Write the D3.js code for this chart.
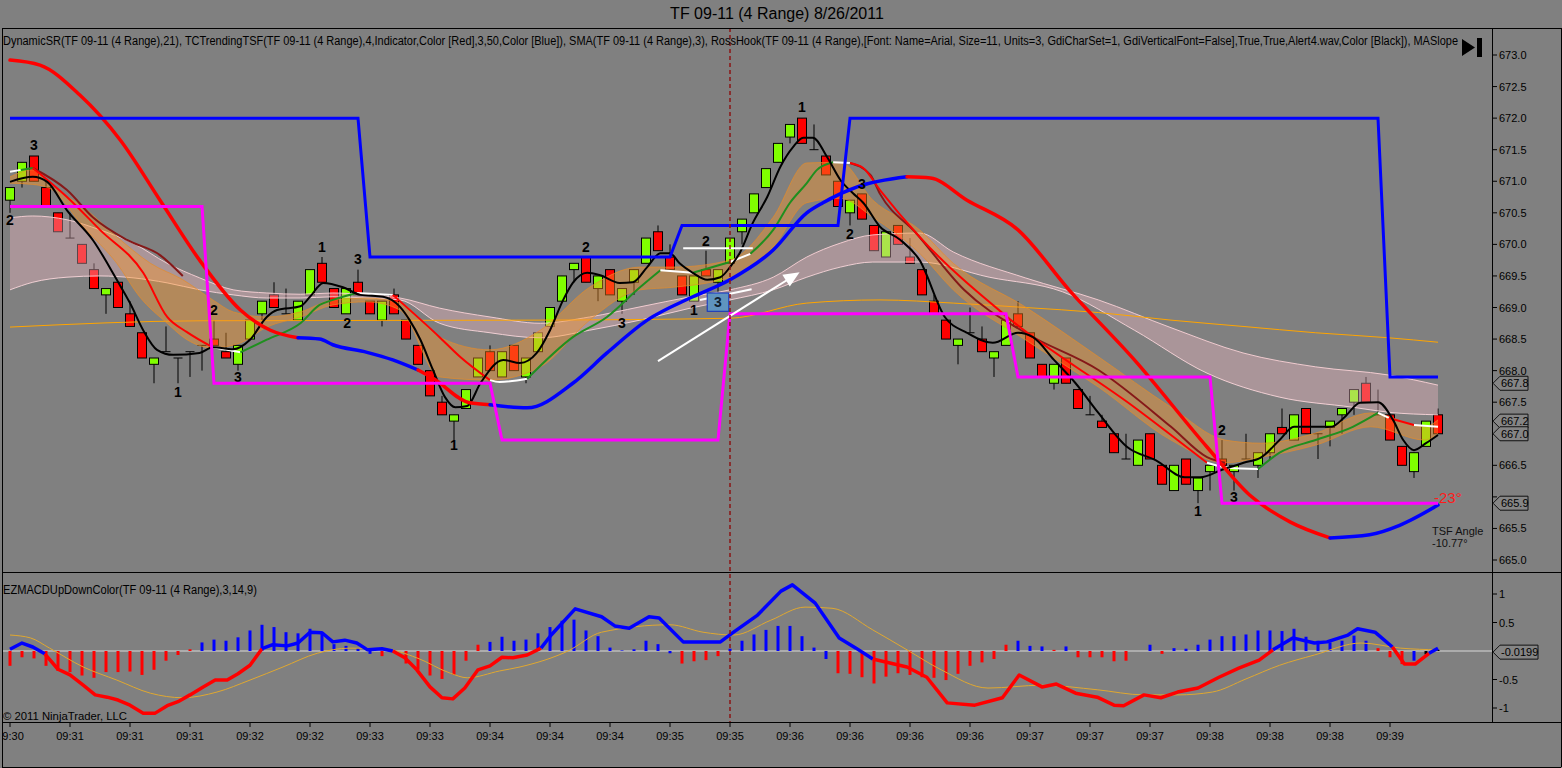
<!DOCTYPE html>
<html>
<head>
<meta charset="utf-8">
<script src="https://cdn.jsdelivr.net/npm/d3@7/dist/d3.min.js"></script>
<style>
  body { margin: 0; background: #808080; }
  svg { display: block; font-family: "Liberation Sans", Arial, sans-serif; }
</style>
</head>
<body>
<svg id="chart" width="1562" height="768"></svg>
<script>
// ---- price bars (4 range) ----
const opens  = [670.7,671.0,671.4,670.9,670.5,670.1,670.0,669.6,669.2,669.4, 668.9,668.6,668.1,668.3,668.2,668.3,668.4,668.5,668.3,668.1,
                668.5,668.9,669.2,668.9,668.8,669.2,669.7,669.3,668.9,669.4, 669.1,668.8,669.2,668.8,668.4,668.0,667.5,667.2,667.4,667.9,
                668.3,667.9,668.4,667.9,668.3,668.7,669.1,669.6,669.8,669.3, 669.6,669.1,669.4,669.7,670.2,669.8,669.5,669.1,669.6,669.4,
                669.7,670.2,670.5,670.9,671.3,671.7,672.0,671.5,671.4,671.0, 670.5,670.8,670.3,669.8,670.3,669.8,669.6,669.1,668.8,668.4,
                668.6,668.5,668.2,668.4,668.9,668.6,668.1,667.8,668.2,667.7, 667.3,667.2,667.0,666.6,666.5,667.0,666.5,666.1,666.6,666.1,
                666.4,666.6,666.4,666.6,666.5,666.7,667.1,666.9,667.4,667.0, 667.1,667.3,667.5,667.8,667.3,667.3,666.8,666.4,666.8,667.3]
const highs  = [670.9,671.3,671.4,671.0,670.5,670.5,670.0,669.7,669.3,669.4, 669.1,668.6,668.2,668.7,668.2,668.3,668.4,668.8,668.6,668.4,
                668.8,669.1,669.4,669.3,669.1,669.6,669.8,669.3,669.3,669.6, 669.1,669.1,669.3,668.8,668.4,668.0,667.6,667.3,667.7,668.2,
                668.4,668.3,668.4,668.2,668.6,669.0,669.5,669.7,669.8,669.5, 669.6,669.3,669.6,670.1,670.3,670.0,669.5,669.5,669.9,669.6,
                670.1,670.4,670.8,671.2,671.6,671.9,672.0,671.9,671.4,671.0, 670.7,670.8,670.3,670.2,670.3,670.1,669.6,669.2,668.8,668.5,
                669.0,668.7,668.3,668.8,669.1,668.6,668.1,668.1,668.2,667.7, 667.6,667.3,667.0,667.0,666.9,667.0,666.5,666.5,666.6,666.3,
                666.5,666.9,666.5,667.0,666.7,667.0,667.4,667.3,667.4,667.0, 667.2,667.4,667.7,667.9,667.7,667.3,666.8,666.7,667.2,667.4]
const lows   = [670.5,670.9,671.0,670.6,670.2,670.1,669.7,669.3,668.9,669.0, 668.7,668.2,667.8,668.3,667.8,667.9,668.0,668.4,668.2,668.0,
                668.5,668.8,669.0,668.9,668.8,669.2,669.4,669.0,668.9,669.2, 668.9,668.7,668.9,668.5,668.1,667.6,667.3,666.9,667.4,667.9,
                668.0,667.9,668.0,667.8,668.3,668.7,669.1,669.4,669.4,669.1, 669.2,668.9,669.2,669.7,669.9,669.6,669.2,669.1,669.5,669.2,
                669.7,670.0,670.5,670.9,671.3,671.6,671.6,671.5,671.1,670.6, 670.3,670.4,669.9,669.8,670.0,669.7,669.2,668.9,668.5,668.1,
                668.6,668.3,667.9,668.4,668.7,668.2,667.9,667.7,667.8,667.4, 667.3,667.1,666.7,666.6,666.5,666.6,666.2,666.1,666.2,665.9,
                666.1,666.5,666.1,666.6,666.3,666.6,667.0,666.9,667.0,666.6, 666.8,667.0,667.3,667.5,667.3,666.9,666.5,666.3,666.8,667.0]
const closes = [670.9,671.3,671.0,670.6,670.2,670.1,669.7,669.3,669.3,669.0, 668.7,668.2,668.2,668.3,668.2,668.3,668.4,668.4,668.2,668.4,
                668.8,669.1,669.0,668.9,669.1,669.6,669.4,669.0,669.3,669.2, 668.9,669.1,668.9,668.5,668.1,667.6,667.3,667.3,667.7,668.2,
                668.0,668.3,668.0,668.2,668.6,669.0,669.5,669.7,669.4,669.5, 669.2,669.3,669.6,670.1,669.9,669.6,669.2,669.5,669.5,669.6,
                670.1,670.4,670.8,671.2,671.6,671.9,671.6,671.5,671.1,670.6, 670.7,670.4,669.9,670.2,670.0,669.7,669.2,668.9,668.5,668.5,
                668.6,668.3,668.3,668.8,668.7,668.2,667.9,668.1,667.8,667.4, 667.3,667.1,666.7,666.6,666.9,666.6,666.2,666.5,666.2,666.3,
                666.5,666.5,666.5,666.6,666.7,667.0,667.0,667.3,667.0,667.0, 667.2,667.4,667.7,667.5,667.3,666.9,666.5,666.7,667.2,667.0]

const timeLabels = ['09:30','09:31','09:31','09:31','09:32','09:32','09:33','09:33','09:34','09:34','09:34','09:35',
                    '09:35','09:36','09:36','09:36','09:36','09:37','09:37','09:37','09:38','09:38','09:38','09:39']
const priceTicks = [665.0,665.5,666.0,666.5,667.0,667.5,668.0,668.5,669.0,669.5,670.0,670.5,671.0,671.5,672.0,672.5,673.0]
const priceTags = [667.8, 667.2, 667.0, 665.9]
const macdTicks = [1, 0.5, -0.5, -1]
const macdTag = -0.0199

// ---- indicators: [bar, value] (and colour of the segment starting there) ----
const sma3 = [[0,670.99],[1.9,671.07],[3.1,670.99],[4.75,670.54],[6.9,670.07],[8.9,669.44],[10,669.07],[11.1,668.64],[12.25,668.33],
  [13.6,668.25],[15.8,668.28],[16.9,668.37],[18.6,668.34],[20,668.49],[21.4,668.85],[22.25,668.96],[24.2,669.02],[25,669.17],
  [26.1,669.39],[27.75,669.32],[29.2,669.20],[31.1,669.17],[32.5,669.01],[33.3,668.80],[34.2,668.49],[35.25,668.01],[36.25,667.58],
  [37.1,667.42],[38.1,667.44],[39.2,667.80],[41.1,668.17],[42.5,668.12],[43.9,668.28],[45,668.64],[46.1,669.12],[46.9,669.39],
  [48.1,669.55],[49.2,669.51],[50.8,669.39],[51.9,669.40],[53.1,669.64],[54.2,669.86],[55,669.86],[55.8,669.70],[56.9,669.55],
  [58.1,669.44],[59.2,669.48],[60,669.64],[60.8,669.86],[61.9,670.34],[63.1,670.75],[64.2,671.23],[65.25,671.54],[66.1,671.69],
  [66.9,671.69],[68.1,671.38],[69.2,671.02],[70.25,670.81],[71.1,670.66],[72.5,670.28],[74.2,670.07],[75.8,669.75],[77.9,668.85],
  [79.75,668.60],[81.9,668.44],[84,668.60],[85.25,668.53],[87,668.17],[88.8,667.80],[90.7,667.33],[93.1,666.79],[95.5,666.58],
  [97.9,666.31],[99.2,666.31],[101,666.43],[102.8,666.54],[104.3,666.63],[105.8,666.90],[107,667.11],[110.1,667.11],[111.25,667.27],
  [112.5,667.49],[114,667.50],[115.25,667.22],[116.1,666.90],[117,666.74],[118,666.85],[119,666.98]]

const fastMA = [[0,671.15,'w'],[0.9,671.18,'g'],[1.9,671.21,'r'],[4.75,670.75,'r'],[7.5,670.23,'r'],[11.1,669.55,'r'],[13.1,668.85,'r'],
  [14.75,668.61,'r'],[16.9,668.37,'w'],[18.1,668.33,'w'],[19.2,668.29,'g'],[21.4,668.49,'g'],[24.2,668.75,'g'],[25.8,669.04,'g'],
  [26.9,669.12,'g'],[28.9,669.23,'w'],[31.9,669.20,'r'],[35.8,668.53,'r'],[37.5,668.22,'r'],[40,667.85,'w'],[40.8,667.82,'w'],
  [43.1,667.87,'g'],[46.9,668.53,'g'],[49.75,668.85,'g'],[52.5,669.32,'g'],[54.2,669.59,'w'],[56.9,669.55,'g'],[60,669.72,'w'],
  [61.7,669.85,'g'],[63.6,670.23,'g'],[65,670.66,'g'],[66.4,670.97,'g'],[67.25,671.18,'g'],[68.6,671.30,'w'],[70,671.29,'r'],
  [71.1,671.21,'r'],[72.5,670.86,'r'],[75.8,670.12,'r'],[83.1,668.85,'r'],[93.7,667.42,'r'],[99.75,666.54,'w'],[101.6,666.46,'w'],
  [104,666.44,'g'],[105.8,666.70,'g'],[108.8,666.90,'g'],[111.9,667.11,'g'],[114,667.33,'w'],[114.9,667.25,'r'],[117,667.14,'w'],
  [119,667.11,'w']]

// slower dark-red average, visible in the two down legs
const slowLegs = [
  [[1.9,671.21],[4.75,670.86],[6.9,670.43],[9.75,670.07],[12.5,669.83],[14.4,669.50]],
  [[70,671.29],[71.7,671.10],[72.5,670.80],[75.5,670.18],[79.5,669.28],[84.6,668.60],[90.7,668.01],[96.75,667.11],[99.75,666.63],[101.25,666.54]]
]

const tsf = [[0,672.92,'r'],[2.5,672.84,'r'],[5.8,672.37,'r'],[9.2,671.65,'r'],[12.5,670.70,'r'],[15.8,669.75,'r'],[19.2,668.96,'r'],
  [21.7,668.64,'r'],[24,668.52,'b'],[25.8,668.50,'b'],[26.9,668.41,'b'],[29.75,668.29,'b'],[31.9,668.17,'b'],[34,668.01,'r'],
  [35.25,667.88,'r'],[38.3,667.49,'r'],[40,667.46,'b'],[43.1,667.41,'b'],[46.9,667.80,'b'],[49.75,668.28,'b'],[53.1,668.80,'b'],
  [56.9,669.17,'b'],[60,669.44,'b'],[63.6,669.91,'b'],[66.4,670.50,'b'],[67.75,670.66,'b'],[70.6,670.91,'b'],[74.75,671.07,'r'],
  [76.7,671.05,'r'],[79.75,670.70,'r'],[84,670.23,'r'],[88.25,669.28,'r'],[93.7,668.17,'r'],[99.75,666.79,'r'],[103.3,666.03,'r'],
  [106.7,665.60,'r'],[110,665.35,'b'],[113.3,665.40,'b'],[115.8,665.55,'b'],[119,665.87,'b']]

const longMA = [[0,668.69],[16,668.79],[44,668.80],[60,668.83],[66.4,669.07],[72.5,669.12],[78.6,669.07],[84.6,669.0],[90.7,668.92],
  [96.75,668.8],[102.75,668.7],[108.8,668.6],[114.9,668.52],[119,668.45]]

const orangeUpper = [[0,671.07],[1.9,671.18],[3.3,670.94],[6.1,670.59],[8.9,670.12],[11.7,669.70],[14.4,669.44],[16.9,669.12],
  [18.6,668.93],[21.4,668.85],[24.2,668.93],[26.9,669.12],[29.75,669.15],[32.5,669.07],[35.8,668.53],[40,668.33],[44.2,668.64],
  [48.3,669.32],[52.5,669.64],[55.25,669.64],[60,669.75],[63.6,670.43],[66.4,671.29],[69.2,671.30],[71.9,670.70],[75.8,670.23],
  [78.6,669.70],[84.6,669.01],[90.7,668.22],[96.75,667.42],[101.25,666.90],[104.3,666.85],[108.8,667.01],[113.4,667.33],
  [117.9,667.11],[119,667.22]]
const orangeLower = [[0,670.97],[1.9,670.95],[3.3,670.89],[6.1,670.28],[8.9,669.70],[10.8,669.17],[13.1,668.75],[14.75,668.49],
  [16.9,668.36],[19.2,668.44],[21.4,668.69],[24.2,668.85],[26.9,669.04],[29.75,669.09],[32.5,668.96],[35.8,667.90],[40,667.85],
  [44.2,668.06],[48.3,668.80],[52.5,669.28],[55.25,669.32],[60,669.48],[63.6,669.96],[66.4,670.66],[69.2,670.73],[71.9,670.43],
  [75.8,669.86],[78.6,669.28],[84.6,668.49],[90.7,667.74],[96.75,666.90],[101.25,666.54],[104.3,666.63],[108.8,666.82],
  [113.4,667.11],[117.9,666.90],[119,667.01]]

const pinkUpper = [[0,670.42],[1.9,670.45],[4.75,670.39],[7.5,670.23],[10.25,670.02],[13.1,669.70],[15.8,669.47],[18.6,669.28],
  [21.4,669.23],[24.2,669.21],[26.9,669.23],[29.75,669.20],[32.5,669.15],[35.8,668.99],[40,668.85],[44.2,668.75],[48.3,668.85],
  [52.5,669.01],[56.7,669.17],[60,669.28],[63.6,669.48],[66.4,669.80],[69.2,670.02],[71.9,670.15],[75.8,670.18],[78.6,669.88],
  [84.6,669.47],[90.7,669.12],[96.75,668.68],[102.75,668.28],[108.8,668.06],[114.9,667.93],[119,667.77]]
const pinkLower = [[0,669.28],[1.9,669.40],[4.75,669.48],[7.5,669.50],[10.25,669.47],[13.1,669.39],[15.8,669.28],[18.6,669.20],
  [21.4,669.15],[24.2,669.15],[26.9,669.17],[29.75,669.15],[32.5,669.12],[35.8,668.75],[40,668.60],[44.2,668.52],[48.3,668.64],
  [52.5,668.80],[56.7,668.99],[60,669.12],[63.6,669.28],[66.4,669.48],[69.2,669.64],[71.9,669.72],[75.8,669.72],[81.6,669.48],
  [87.7,669.25],[93.7,668.64],[99.75,667.96],[105.8,667.58],[111.9,667.42],[114.9,667.34],[119,667.30]]

// DynamicSR levels: [first bar, last bar, price]
const resistance = [[0,29,672.0],[30,55,669.8],[56,69,670.3],[70,114,672.0],[115,119,667.9]]
const support = [[0,16,670.6],[17,40,667.8],[41,59,666.9],[60,83,668.9],[84,100,667.9],[101,119,665.9]]

// RossHook labels [bar, price, text]
const rossLabels = [[2,671.58,'3'],[0,670.39,'2'],[14,667.66,'1'],[17,668.96,'2'],[19,667.90,'3'],[26,669.96,'1'],[29,669.77,'3'],
  [28.1,668.75,'2'],[37,666.82,'1'],[48,669.96,'2'],[51,668.75,'3'],[58,670.05,'2'],[57,668.96,'1'],[66,672.18,'1'],
  [71,670.96,'3'],[70,670.16,'2'],[101,667.06,'2'],[102,666.00,'3'],[99,665.77,'1']]

// drawing objects
const arrowLine = [[54,668.15],[65.8,669.56]]
const whiteLines = [[[56.1,669.94],[61.9,669.94]], [[57.5,669.12],[61.8,669.29]]]
const hookBox = {b1: 58.1, b2: 59.9, p1: 669.23, p2: 668.94, text: '3'}

// ---- lower panel: EZMACD ----
const histValues = [-0.26,-0.11,-0.13,-0.26,-0.35,-0.37,-0.43,-0.47,-0.37,-0.37, -0.36,-0.42,-0.33,-0.17,-0.07,0.03,0.15,0.20,0.18,0.24,
  0.36,0.46,0.42,0.33,0.31,0.39,0.33,0.12,0.09,0.05, -0.05,-0.09,-0.03,-0.22,-0.33,-0.43,-0.49,-0.42,-0.17,0.11,
  0.16,0.25,0.18,0.20,0.31,0.42,0.53,0.55,0.36,0.26, 0.06,0.01,0.03,0.18,0.12,-0.04,-0.22,-0.18,-0.16,-0.09,
  0.04,0.18,0.29,0.37,0.44,0.44,0.26,0.06,-0.14,-0.39, -0.40,-0.46,-0.57,-0.45,-0.39,-0.42,-0.46,-0.47,-0.51,-0.40,
  -0.26,-0.20,-0.14,0.11,0.18,0.09,0.08,0.02,0.08,-0.11, -0.11,-0.11,-0.18,-0.17,0.0,0.11,-0.05,0.05,0.04,0.11,
  0.20,0.26,0.26,0.29,0.36,0.36,0.35,0.39,0.25,0.18, 0.15,0.18,0.27,0.18,0.05,-0.11,-0.23,-0.17,-0.06,0.02]
const histColors = 'rrrrrrrrrrrrrrrrbbbbbbbbbbbbbbbrbrrrrrrrbbbbbbbbbbbbbbbbrrrrbbbbbbbbbrrrrrrrrrrrrrrrbbbrbrrrrrrbrbbbbbbbbbbbbbbbbbrrrb'

const macdLine = [[0,0.03,'b'],[1,0.14,'b'],[1.9,0.07,'b'],[2.9,-0.05,'r'],[4,-0.32,'r'],[5,-0.42,'r'],[6.1,-0.60,'r'],[7.1,-0.77,'r'],
  [8.1,-0.81,'r'],[9,-0.86,'r'],[10,-0.95,'r'],[11.1,-1.09,'r'],[12.1,-1.09,'r'],[13.1,-0.96,'r'],[14,-0.89,'r'],[15,-0.77,'r'],
  [16.1,-0.63,'r'],[17.1,-0.51,'r'],[18.1,-0.51,'r'],[19,-0.40,'r'],[20,-0.25,'r'],[21,0.04,'b'],[21.9,0.11,'b'],[23.1,0.09,'b'],
  [24,0.14,'b'],[25,0.33,'b'],[26,0.32,'b'],[26.9,0.16,'b'],[27.9,0.19,'b'],[28.9,0.14,'b'],[29.8,0.02,'b'],[31,0.04,'b'],
  [31.9,0.0,'r'],[32.9,-0.12,'r'],[33.9,-0.33,'r'],[35,-0.63,'r'],[36,-0.82,'r'],[36.9,-0.84,'r'],[37.9,-0.65,'r'],[39,-0.33,'r'],
  [40,-0.26,'r'],[41,-0.11,'r'],[41.9,-0.12,'r'],[43.1,-0.07,'r'],[44.25,0.05,'b'],[45.1,0.28,'b'],[47.1,0.74,'b'],[49.3,0.60,'b'],
  [50.4,0.44,'b'],[51.6,0.40,'b'],[53.25,0.60,'b'],[54.1,0.58,'b'],[56.1,0.16,'b'],[57.25,0.16,'b'],[59.2,0.16,'b'],[60.3,0.33,'b'],
  [62.3,0.63,'b'],[64.25,1.05,'b'],[65.2,1.16,'b'],[67.1,0.84,'b'],[69.1,0.23,'b'],[70.5,0.05,'b'],[71.9,-0.14,'r'],[74.75,-0.28,'r'],
  [76.4,-0.46,'r'],[78.1,-0.91,'r'],[80.4,-0.95,'r'],[82.7,-0.82,'r'],[84.1,-0.42,'r'],[86,-0.63,'r'],[87.2,-0.58,'r'],[88.8,-0.74,'r'],
  [90.6,-0.81,'r'],[92,-0.95,'r'],[92.8,-0.96,'r'],[94.5,-0.77,'r'],[95.9,-0.82,'r'],[97.3,-0.72,'r'],[99,-0.65,'r'],[100.75,-0.46,'r'],
  [102.4,-0.30,'r'],[104.1,-0.16,'r'],[105.25,0.02,'b'],[106.9,0.23,'b'],[108.7,0.14,'b'],[109.75,0.16,'b'],[111.5,0.28,'b'],
  [112.3,0.39,'b'],[113.75,0.33,'b'],[115.2,0.07,'r'],[116.2,-0.23,'r'],[117.1,-0.23,'r'],[118.25,-0.04,'b'],[119,0.05,'b']]

const signalLine = [[0,0.28],[1.7,0.23],[3.3,0.05],[6.1,-0.28],[8.9,-0.51],[11.7,-0.74],[14.4,-0.82],[17.25,-0.72],[20,-0.51],
  [22.75,-0.28],[25.6,-0.04],[28.3,0.05],[31.1,0.04],[33.9,-0.12],[36.7,-0.39],[38.1,-0.47],[40.8,-0.35],[42.5,-0.28],[46.5,0.0],
  [49.3,0.33],[55,0.46],[57.75,0.33],[60.3,0.28],[63.4,0.54],[66.25,0.77],[68.5,0.75],[71.9,0.37],[74.75,0.02],[77.6,-0.33],
  [81.5,-0.65],[86,-0.60],[90.6,-0.68],[94.5,-0.77],[97.3,-0.77],[100.2,-0.72],[103,-0.49],[105.8,-0.25],[108.7,-0.07],
  [112.6,0.14],[115.9,0.05],[119,0.02]]

// ---- layout ----
const W = 1562, H = 768
const left = 2, axisX = 1492
const topY = 28, sepY = 572, lowBottom = 722
const colors = { r: '#ff0000', b: '#0000ff', g: '#1f8f1f', w: '#ffffff' }

const svg = d3.select('#chart')
svg.append('rect').attr('width', W).attr('height', H).attr('fill', '#808080')

const x = d3.scaleLinear().domain([0, 119]).range([10, 1438])
const y = d3.scaleLinear().domain([665, 673]).range([560, 55])
const ym = d3.scaleLinear().domain([-1, 1]).range([708, 594])

const defs = svg.append('defs')
defs.append('clipPath').attr('id', 'clipTop').append('rect')
  .attr('x', left).attr('y', topY).attr('width', axisX - left).attr('height', sepY - topY)
defs.append('clipPath').attr('id', 'clipLow').append('rect')
  .attr('x', left).attr('y', sepY + 1).attr('width', axisX - left).attr('height', lowBottom - sepY - 1)
defs.append('clipPath').attr('id', 'clipAxis').append('rect')
  .attr('x', left).attr('y', lowBottom).attr('width', axisX - left).attr('height', H - lowBottom)

// title
svg.append('text').attr('x', 777).attr('y', 19).attr('text-anchor', 'middle')
  .attr('font-size', 16).attr('fill', '#000').text('TF 09-11 (4 Range)  8/26/2011')

const upperG = svg.append('g').attr('clip-path', 'url(#clipTop)')

// candles
const candles = opens.map((o, i) => ({ i, o, h: highs[i], l: lows[i], c: closes[i] }))
upperG.selectAll('line.wick').data(candles).join('line').attr('class', 'wick')
  .attr('x1', d => x(d.i)).attr('x2', d => x(d.i))
  .attr('y1', d => y(d.h)).attr('y2', d => y(d.l))
  .attr('stroke', '#000').attr('stroke-width', 1)
upperG.selectAll('rect.body').data(candles.filter(d => d.o !== d.c)).join('rect').attr('class', 'body')
  .attr('x', d => x(d.i) - 4.5).attr('width', 9)
  .attr('y', d => y(Math.max(d.o, d.c)))
  .attr('height', d => Math.abs(y(d.o) - y(d.c)))
  .attr('fill', d => d.c > d.o ? '#80ff00' : '#ff0000')
  .attr('stroke', '#000').attr('stroke-width', 1)
upperG.selectAll('line.doji').data(candles.filter(d => d.o === d.c)).join('line').attr('class', 'doji')
  .attr('x1', d => x(d.i) - 4.5).attr('x2', d => x(d.i) + 4.5)
  .attr('y1', d => y(d.o)).attr('y2', d => y(d.o))
  .attr('stroke', '#000').attr('stroke-width', 1)

// bands
const curve = d3.curveMonotoneX
const bandArea = (upper, lower) => {
  const up = d3.line().curve(curve)(upper.map(d => [x(d[0]), y(d[1])]))
  const lo = d3.line().curve(curve)(lower.map(d => [x(d[0]), y(d[1])]).reverse())
  return up + 'L' + lo.slice(1) + 'Z'
}
const priceLine = d3.line().x(d => x(d[0])).y(d => y(d[1])).curve(curve)

upperG.append('path').attr('d', bandArea(pinkUpper, pinkLower)).attr('fill', 'rgba(240,185,195,0.38)')
upperG.append('path').attr('d', priceLine(pinkUpper)).attr('fill', 'none').attr('stroke', 'rgba(250,210,214,0.9)')
upperG.append('path').attr('d', priceLine(pinkLower)).attr('fill', 'none').attr('stroke', 'rgba(250,214,218,0.9)')

upperG.append('path').attr('d', priceLine(longMA)).attr('fill', 'none').attr('stroke', '#ffa500').attr('stroke-width', 1)

upperG.append('path').attr('d', bandArea(orangeUpper, orangeLower)).attr('fill', 'rgba(250,150,40,0.42)')
upperG.append('path').attr('d', priceLine(orangeUpper)).attr('fill', 'none').attr('stroke', 'rgba(230,140,40,0.7)')
upperG.append('path').attr('d', priceLine(orangeLower)).attr('fill', 'none').attr('stroke', 'rgba(230,140,40,0.7)')

// split a coloured series into runs of one colour
function colorRuns(pts) {
  const runs = []
  let cur = null
  pts.forEach(p => {
    if (!cur || cur.c !== p[2]) {
      if (cur) cur.pts.push(p)
      cur = { c: p[2], pts: [p] }
      runs.push(cur)
    } else cur.pts.push(p)
  })
  return runs.filter(r => r.pts.length > 1)
}

// slow dark-red average
upperG.selectAll('path.slow').data(slowLegs).join('path').attr('class', 'slow')
  .attr('d', d => priceLine(d)).attr('fill', 'none')
  .attr('stroke', '#861818').attr('stroke-width', 2)

// fast MA (red / green / white)
upperG.selectAll('path.fast').data(colorRuns(fastMA)).join('path').attr('class', 'fast')
  .attr('d', d => priceLine(d.pts)).attr('fill', 'none')
  .attr('stroke', d => colors[d.c]).attr('stroke-width', 2)

// SMA(3)
upperG.append('path').attr('d', priceLine(sma3)).attr('fill', 'none').attr('stroke', '#000').attr('stroke-width', 2)

// TSF thick
upperG.selectAll('path.tsf').data(colorRuns(tsf)).join('path').attr('class', 'tsf')
  .attr('d', d => priceLine(d.pts)).attr('fill', 'none')
  .attr('stroke', d => colors[d.c]).attr('stroke-width', 3.5).attr('stroke-linecap', 'round')

// RossHook labels
upperG.selectAll('text.hook').data(rossLabels).join('text').attr('class', 'hook')
  .attr('x', d => x(d[0])).attr('y', d => y(d[1]))
  .attr('text-anchor', 'middle').attr('dominant-baseline', 'central')
  .attr('font-size', 14).attr('font-weight', 'bold').attr('fill', '#000').text(d => d[2])

// DynamicSR steps
const levelPts = lv => lv.flatMap(d => [[d[0], d[2]], [d[1], d[2]]])
const stepLine = d3.line().x(d => x(d[0])).y(d => y(d[1]))
upperG.append('path').attr('d', stepLine(levelPts(support))).attr('fill', 'none')
  .attr('stroke', '#ff00ff').attr('stroke-width', 3)
upperG.append('path').attr('d', stepLine(levelPts(resistance))).attr('fill', 'none')
  .attr('stroke', '#0000ff').attr('stroke-width', 3)

// drawing objects
whiteLines.forEach(l => {
  upperG.append('line').attr('x1', x(l[0][0])).attr('y1', y(l[0][1])).attr('x2', x(l[1][0])).attr('y2', y(l[1][1]))
    .attr('stroke', '#fff').attr('stroke-width', 2)
})
{
  const x1 = x(arrowLine[0][0]), y1 = y(arrowLine[0][1]), x2 = x(arrowLine[1][0]), y2 = y(arrowLine[1][1])
  const len = Math.hypot(x2 - x1, y2 - y1), ux = (x2 - x1) / len, uy = (y2 - y1) / len
  upperG.append('line').attr('x1', x1).attr('y1', y1).attr('x2', x2 - ux * 10).attr('y2', y2 - uy * 10)
    .attr('stroke', '#fff').attr('stroke-width', 2)
  const bx = x2 - ux * 16, by = y2 - uy * 16
  upperG.append('path').attr('d', `M${x2},${y2}L${bx - uy * 7},${by + ux * 7}L${bx + uy * 7},${by - ux * 7}Z`).attr('fill', '#fff')
}
upperG.append('rect').attr('x', x(hookBox.b1)).attr('y', y(hookBox.p1))
  .attr('width', x(hookBox.b2) - x(hookBox.b1)).attr('height', y(hookBox.p2) - y(hookBox.p1))
  .attr('fill', '#5f94bf').attr('stroke', '#1030c0').attr('stroke-width', 1)
upperG.append('text').attr('x', (x(hookBox.b1) + x(hookBox.b2)) / 2).attr('y', (y(hookBox.p1) + y(hookBox.p2)) / 2)
  .attr('text-anchor', 'middle').attr('dominant-baseline', 'central')
  .attr('font-size', 14).attr('font-weight', 'bold').attr('fill', '#102030').text(hookBox.text)

// angle texts
upperG.append('text').attr('x', 1434).attr('y', 503).attr('font-size', 15).attr('fill', '#ff1a1a').text('-23°')
upperG.append('text').attr('x', 1432).attr('y', 535).attr('font-size', 11).attr('fill', '#111').text('TSF Angle')
upperG.append('text').attr('x', 1432).attr('y', 547).attr('font-size', 11).attr('fill', '#111').text('-10.77°')

// ---- lower panel ----
const lowerG = svg.append('g').attr('clip-path', 'url(#clipLow)')
lowerG.append('line').attr('x1', left).attr('x2', axisX).attr('y1', ym(0)).attr('y2', ym(0))
  .attr('stroke', '#d8d8d8').attr('stroke-width', 1)
lowerG.selectAll('rect.hist').data(histValues).join('rect').attr('class', 'hist')
  .attr('x', (d, i) => x(i) - 1.5).attr('width', 3)
  .attr('y', d => Math.min(ym(d), ym(0))).attr('height', d => Math.abs(ym(d) - ym(0)))
  .attr('fill', (d, i) => colors[histColors[i]])
const macdPath = d3.line().x(d => x(d[0])).y(d => ym(d[1]))
lowerG.append('path').attr('d', d3.line().x(d => x(d[0])).y(d => ym(d[1])).curve(curve)(signalLine))
  .attr('fill', 'none').attr('stroke', '#e0a830').attr('stroke-width', 1)
lowerG.selectAll('path.macd').data(colorRuns(macdLine)).join('path').attr('class', 'macd')
  .attr('d', d => macdPath(d.pts)).attr('fill', 'none')
  .attr('stroke', d => colors[d.c]).attr('stroke-width', 3.5).attr('stroke-linejoin', 'round')

// session break
svg.append('line').attr('x1', x(60)).attr('x2', x(60)).attr('y1', topY).attr('y2', lowBottom)
  .attr('stroke', '#8b1414').attr('stroke-width', 1.5).attr('stroke-dasharray', '4,3')

// ---- frames ----
const frame = svg.append('g').attr('stroke', '#000').attr('stroke-width', 1).attr('shape-rendering', 'crispEdges')
frame.append('line').attr('x1', left).attr('x2', W - 1).attr('y1', topY).attr('y2', topY)
frame.append('line').attr('x1', left).attr('x2', W - 1).attr('y1', sepY).attr('y2', sepY)
frame.append('line').attr('x1', left).attr('x2', W - 1).attr('y1', lowBottom).attr('y2', lowBottom)
frame.append('line').attr('x1', left).attr('x2', W - 1).attr('y1', H - 1).attr('y2', H - 1)
frame.append('line').attr('x1', left).attr('x2', left).attr('y1', topY).attr('y2', H - 1)
frame.append('line').attr('x1', W - 1).attr('x2', W - 1).attr('y1', topY).attr('y2', H - 1)
frame.append('line').attr('x1', axisX).attr('x2', axisX).attr('y1', topY).attr('y2', lowBottom)

// indicator captions
svg.append('text').attr('x', 3).attr('y', 45).attr('font-size', 12).attr('fill', '#000')
  .attr('textLength', 1455).attr('lengthAdjust', 'spacingAndGlyphs')
  .text('DynamicSR(TF 09-11 (4 Range),21), TCTrendingTSF(TF 09-11 (4 Range),4,Indicator,Color [Red],3,50,Color [Blue]), SMA(TF 09-11 (4 Range),3), RossHook(TF 09-11 (4 Range),[Font: Name=Arial, Size=11, Units=3, GdiCharSet=1, GdiVerticalFont=False],True,True,Alert4.wav,Color [Black]), MASlope')
svg.append('text').attr('x', 3).attr('y', 594).attr('font-size', 12).attr('fill', '#000')
  .attr('textLength', 254).attr('lengthAdjust', 'spacingAndGlyphs')
  .text('EZMACDUpDownColor(TF 09-11 (4 Range),3,14,9)')
svg.append('text').attr('x', 3).attr('y', 720).attr('font-size', 11).attr('fill', '#000')
  .attr('textLength', 124).attr('lengthAdjust', 'spacingAndGlyphs')
  .text('© 2011 NinjaTrader, LLC')

// play icon
svg.append('path').attr('d', 'M1462,39L1475,47.5L1462,56Z').attr('fill', '#000')
svg.append('rect').attr('x', 1477).attr('y', 38).attr('width', 5).attr('height', 19).attr('fill', '#000')

// price axis (labels hidden under a price marker are left out)
const pAxis = svg.append('g').attr('font-size', 11).attr('fill', '#000')
priceTicks.forEach(p => {
  pAxis.append('line').attr('x1', axisX).attr('x2', axisX + 5).attr('y1', y(p)).attr('y2', y(p)).attr('stroke', '#000')
  const covered = priceTags.some(t => Math.abs(y(t) - y(p)) < 9)
  if (!covered) pAxis.append('text').attr('x', axisX + 7).attr('y', y(p)).attr('dominant-baseline', 'central').text(d3.format('.1f')(p))
})
function tag(g, yy, label, w) {
  g.append('path').attr('d', `M${axisX + 1},${yy}L${axisX + 8},${yy - 7}L${axisX + 8 + w},${yy - 7}L${axisX + 8 + w},${yy + 7}L${axisX + 8},${yy + 7}Z`)
    .attr('fill', '#858585').attr('stroke', '#111').attr('stroke-width', 1)
  g.append('text').attr('x', axisX + 9).attr('y', yy).attr('dominant-baseline', 'central').attr('fill', '#000').text(label)
}
priceTags.forEach(p => tag(pAxis, y(p), d3.format('.1f')(p), 28))

const mAxis = svg.append('g').attr('font-size', 11).attr('fill', '#000')
macdTicks.forEach(v => {
  mAxis.append('line').attr('x1', axisX).attr('x2', axisX + 5).attr('y1', ym(v)).attr('y2', ym(v)).attr('stroke', '#000')
  mAxis.append('text').attr('x', axisX + 7).attr('y', ym(v)).attr('dominant-baseline', 'central').text(v)
})
tag(mAxis, ym(macdTag), String(macdTag), 38)

// time axis
const tAxis = svg.append('g').attr('clip-path', 'url(#clipAxis)').attr('font-size', 11).attr('fill', '#000')
timeLabels.forEach((t, k) => {
  const xx = x(k * 5)
  tAxis.append('line').attr('x1', xx).attr('x2', xx).attr('y1', lowBottom).attr('y2', lowBottom + 5).attr('stroke', '#000')
  tAxis.append('text').attr('x', xx).attr('y', lowBottom + 14).attr('text-anchor', 'middle')
    .attr('dominant-baseline', 'central').text(t)
})
</script>
</body>
</html>
